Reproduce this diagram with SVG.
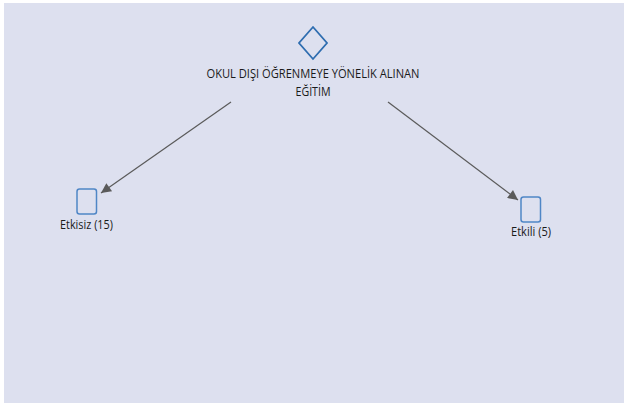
<svg xmlns="http://www.w3.org/2000/svg" width="624" height="405" viewBox="0 0 624 405">
<defs>
<style>
.lbl{font-family:"Open Sans","Liberation Sans",sans-serif;font-size:13.5px;fill:#1a1a1a;}
.leaf{fill:none;stroke:#4f86c6;stroke-width:1.5;}
.edge{stroke:#5a5a5a;stroke-width:1.2;fill:none;marker-end:url(#ah);}
</style>
<marker id="ah" viewBox="0 0 10 10" refX="10" refY="5" markerWidth="12" markerHeight="10" markerUnits="userSpaceOnUse" orient="auto">
<path d="M0,0 L10,5 L0,10 z" fill="#5a5a5a"/>
</marker>
</defs>
<rect x="0" y="0" width="624" height="405" fill="#ffffff"/>
<rect x="4" y="3" width="620" height="400" fill="#dde0ef"/>
<g id="connectors">
<line class="edge" x1="231" y1="102" x2="101" y2="193"/>
<line class="edge" x1="388" y1="102" x2="518" y2="200"/>
</g>
<g id="root">
<path d="M313,27 L327,43 L313,59 L299,43 Z" fill="none" stroke="#2e6db0" stroke-width="1.8"/>
<text class="lbl" x="313" y="78" text-anchor="middle" textLength="213" lengthAdjust="spacingAndGlyphs">OKUL DIŞI ÖĞRENMEYE YÖNELİK ALINAN</text>
<text class="lbl" x="313" y="96" text-anchor="middle" textLength="35" lengthAdjust="spacingAndGlyphs">EĞİTİM</text>
</g>
<g id="etkisiz">
<rect class="leaf" x="77" y="189" width="19.5" height="25" rx="2.5"/>
<text class="lbl" x="86.5" y="229" text-anchor="middle" textLength="53" lengthAdjust="spacingAndGlyphs">Etkisiz (15)</text>
</g>
<g id="etkili">
<rect class="leaf" x="521" y="197" width="19.5" height="25" rx="2.5"/>
<text class="lbl" x="531" y="236" text-anchor="middle" textLength="40" lengthAdjust="spacingAndGlyphs">Etkili (5)</text>
</g>
</svg>
